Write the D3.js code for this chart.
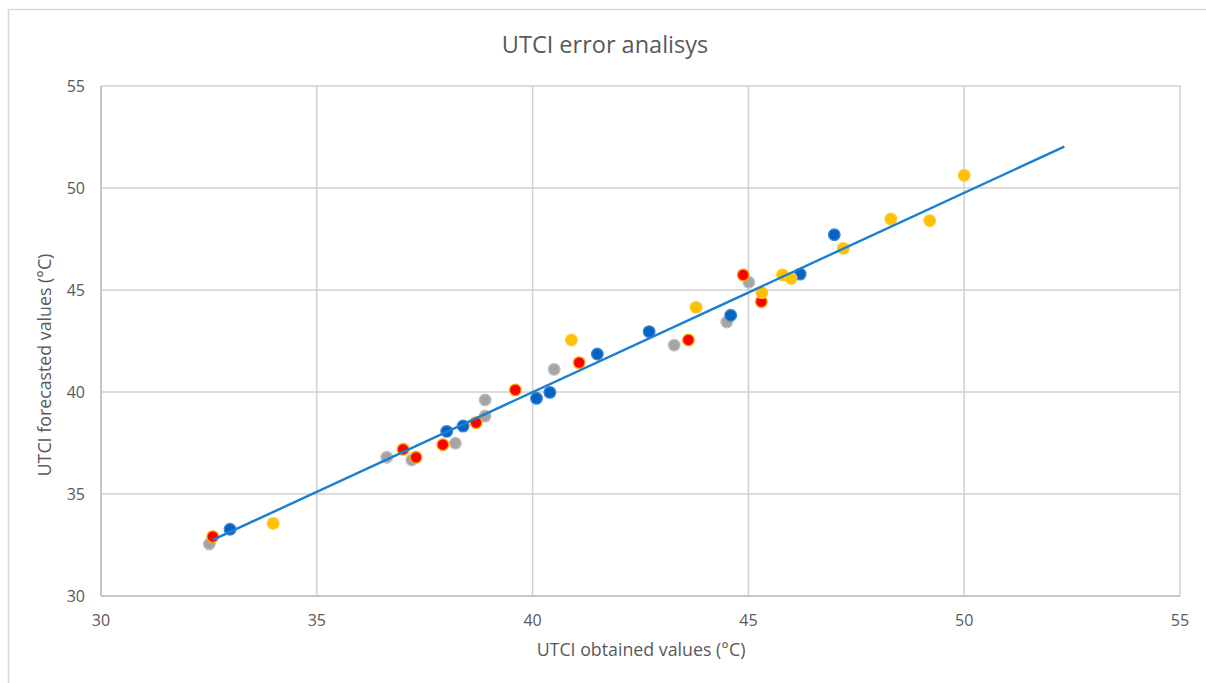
<!DOCTYPE html>
<html><head><meta charset="utf-8">
<script src="https://cdn.jsdelivr.net/npm/d3@7"></script>
<style>body{margin:0;background:#fff}svg{display:block}text{font-family:"Open Sans","Noto Sans",sans-serif;fill:#595959}</style>
</head><body>
<svg id="c" width="1206" height="683"></svg>
<script>
const title = "UTCI error analisys";
const xTitle = "UTCI obtained values (°C)";
const yTitle = "UTCI forecasted values  (°C)";
const xTicks = [30,35,40,45,50,55];
const yTicks = [30,35,40,45,50,55];

const blueX = [32.99,38.01,38.39,40.09,40.40,41.50,42.70,44.59,46.20,46.99];
const blueY = [33.27,38.07,38.33,39.69,39.98,41.86,42.96,43.76,45.78,47.71];
const redX  = [32.59,37.00,37.30,37.92,38.69,39.60,41.08,43.61,44.88,45.30];
const redY  = [32.91,37.19,36.80,37.42,38.50,40.10,41.44,42.55,45.74,44.43];
const grayX = [32.51,36.62,37.20,38.21,38.90,38.90,40.50,43.28,44.50,45.01];
const grayY = [32.55,36.80,36.67,37.49,38.82,39.61,41.11,42.30,43.43,45.38];
const yellowX = [33.99,40.90,43.79,45.31,45.79,45.99,47.20,48.30,49.20,50.00];
const yellowY = [33.56,42.55,44.15,44.87,45.74,45.57,47.04,48.48,48.40,50.62];
const trendX = [32.59, 52.32];
const trendY = [32.75, 52.03];

const series = [
  {x: grayX, y: grayY, fill: "#A5A5A5", stroke: "#BFBFBF"},
  {x: redX, y: redY, fill: "#FF0000", stroke: "#FFA200"},
  {x: blueX, y: blueY, fill: "#0563C1", stroke: "#3A86D6"},
  {x: yellowX, y: yellowY, fill: "#FFC000", stroke: "#FFC83A"}
];

const svg = d3.select("#c");
const L = 101, R = 1180, T = 86, B = 596;
const x = d3.scaleLinear().domain([30,55]).range([L,R]);
const y = d3.scaleLinear().domain([30,55]).range([B,T]);

// outer chart border
svg.append("rect").attr("x",8.5).attr("y",9.5).attr("width",1205).attr("height",700)
  .attr("fill","none").attr("stroke","#D9D9D9").attr("stroke-width",1.5);

// gridlines
svg.append("g").selectAll("line").data(xTicks).join("line")
  .attr("x1",d=>x(d)).attr("x2",d=>x(d)).attr("y1",T).attr("y2",B)
  .attr("stroke","#D0D0D0").attr("stroke-width",1.5);
svg.append("g").selectAll("line").data(yTicks).join("line")
  .attr("y1",d=>y(d)).attr("y2",d=>y(d)).attr("x1",L).attr("x2",R)
  .attr("stroke","#D0D0D0").attr("stroke-width",1.5);
// axis lines
svg.append("line").attr("x1",L).attr("x2",L).attr("y1",T).attr("y2",B).attr("stroke","#BFBFBF").attr("stroke-width",1.5);
svg.append("line").attr("x1",L).attr("x2",R).attr("y1",B).attr("y2",B).attr("stroke","#BFBFBF").attr("stroke-width",1.5);

// tick labels
svg.append("g").selectAll("text").data(xTicks).join("text")
  .attr("x",d=>x(d)).attr("y",626).attr("text-anchor","middle")
  .attr("font-size",16).text(d=>d);
svg.append("g").selectAll("text").data(yTicks).join("text")
  .attr("x",85).attr("y",d=>y(d)+5.5).attr("text-anchor","end")
  .attr("font-size",16).text(d=>d);

// titles
svg.append("text").attr("x",605).attr("y",53).attr("text-anchor","middle")
  .attr("font-size",23.5).text(title);
svg.append("text").attr("x",641).attr("y",656).attr("text-anchor","middle")
  .attr("font-size",17.8).text(xTitle);
svg.append("text").attr("transform","translate(51,365) rotate(-90)")
  .attr("text-anchor","middle").attr("font-size",17.8).text(yTitle);

// points
series.forEach(s=>{
  svg.append("g").selectAll("circle").data(s.x.map((v,i)=>[v,s.y[i]])).join("circle")
    .attr("cx",d=>x(d[0])).attr("cy",d=>y(d[1])).attr("r",5.8)
    .attr("fill",s.fill).attr("stroke",s.stroke).attr("stroke-width",1.3);
});

// trendline
svg.append("line").attr("x1",x(trendX[0])).attr("y1",y(trendY[0]))
  .attr("x2",x(trendX[1])).attr("y2",y(trendY[1]))
  .attr("stroke","#1A7FD0").attr("stroke-width",2.4);
</script>
</body></html>
